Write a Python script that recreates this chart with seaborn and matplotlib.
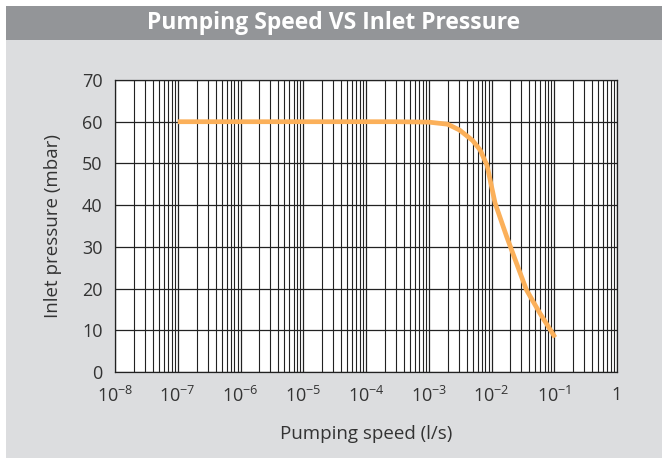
import numpy as np
import pandas as pd
import matplotlib
matplotlib.use("Agg")
import matplotlib.pyplot as plt
import matplotlib.ticker as mticker
from matplotlib.patches import Rectangle
import seaborn as sns

# curve
speed = [1e-7, 1e-6, 1e-5, 1e-4, 3e-4, 1e-3, 2e-3, 3.1e-3, 5e-3, 6.6e-3,
         8.5e-3, 1.14e-2, 1.75e-2, 2.5e-2, 3.6e-2, 5.9e-2, 1.03e-1]
pressure = [60.0, 60.0, 60.0, 60.0, 60.0, 59.9, 59.4, 58.0, 55.5, 53.2,
            49.5, 40.5, 32.4, 26.1, 19.7, 14.1, 8.3]

x_tick_vals = [1e-8, 1e-7, 1e-6, 1e-5, 1e-4, 1e-3, 1e-2, 1e-1, 1]
x_tick_labels = [r'$10^{-8}$', r'$10^{-7}$', r'$10^{-6}$', r'$10^{-5}$', r'$10^{-4}$',
                 r'$10^{-3}$', r'$10^{-2}$', r'$10^{-1}$', '1']
y_ticks = [0, 10, 20, 30, 40, 50, 60, 70]

df = pd.DataFrame({'speed': speed, 'pressure': pressure})

sns.set_style("white")
plt.rcParams['font.family'] = ['Open Sans', 'DejaVu Sans']
plt.rcParams['mathtext.fontset'] = 'custom'
plt.rcParams['mathtext.rm'] = 'Open Sans'
plt.rcParams['mathtext.it'] = 'Open Sans'

W, H = 662, 458
fig = plt.figure(figsize=(W / 100, H / 100), dpi=100)
fig.patch.set_facecolor('white')

# background panel and title bar
fig.patches.append(Rectangle((6 / W, 0), 1, 1 - 40 / H, transform=fig.transFigure,
                             facecolor='#dcdddf', edgecolor='none', zorder=-10))
fig.patches.append(Rectangle((6 / W, 1 - 40 / H), 1, 34 / H, transform=fig.transFigure,
                             facecolor='#939598', edgecolor='none', zorder=-10))
fig.text((6 + W) / 2 / W, 1 - 23 / H, 'Pumping Speed VS Inlet Pressure',
         ha='center', va='center', color='white', fontsize=16.5, fontweight='bold')

ax = fig.add_axes([115 / W, 1 - 372 / H, (617 - 115) / W, (372 - 80) / H])
ax.set_zorder(2)
ax.set_facecolor('white')

sns.lineplot(data=df, x='speed', y='pressure', ax=ax, color='#fbb05a', linewidth=3.4,
             solid_capstyle='butt', zorder=5)

ax.set_xscale('log')
ax.set_xlim(1e-8, 1)
ax.set_ylim(0, 70)
ax.set_xticks(x_tick_vals)
ax.set_xticklabels(x_tick_labels)
ax.xaxis.set_minor_locator(mticker.LogLocator(base=10, subs=np.arange(2, 10), numticks=100))
ax.xaxis.set_minor_formatter(mticker.NullFormatter())
ax.set_yticks(y_ticks)

ax.grid(True, which='major', axis='both', color='#222222', linewidth=0.9)
ax.grid(True, which='minor', axis='x', color='#222222', linewidth=0.8)

ax.tick_params(axis='both', which='major', direction='out', length=5, width=0.9,
               color='#222222', labelsize=13, labelcolor='#333333')
ax.tick_params(axis='x', which='minor', length=0)
ax.tick_params(axis='x', pad=5)
ax.tick_params(axis='y', pad=4)

for side in ['left', 'bottom', 'top', 'right']:
    ax.spines[side].set_color('#222222')
    ax.spines[side].set_linewidth(0.9)

ax.set_xlabel('Pumping speed (l/s)', fontsize=13.5, color='#333333', labelpad=14)
ax.set_ylabel('Inlet pressure (mbar)', fontsize=13.5, color='#333333', labelpad=14)

fig.savefig('out.png', dpi=100)
